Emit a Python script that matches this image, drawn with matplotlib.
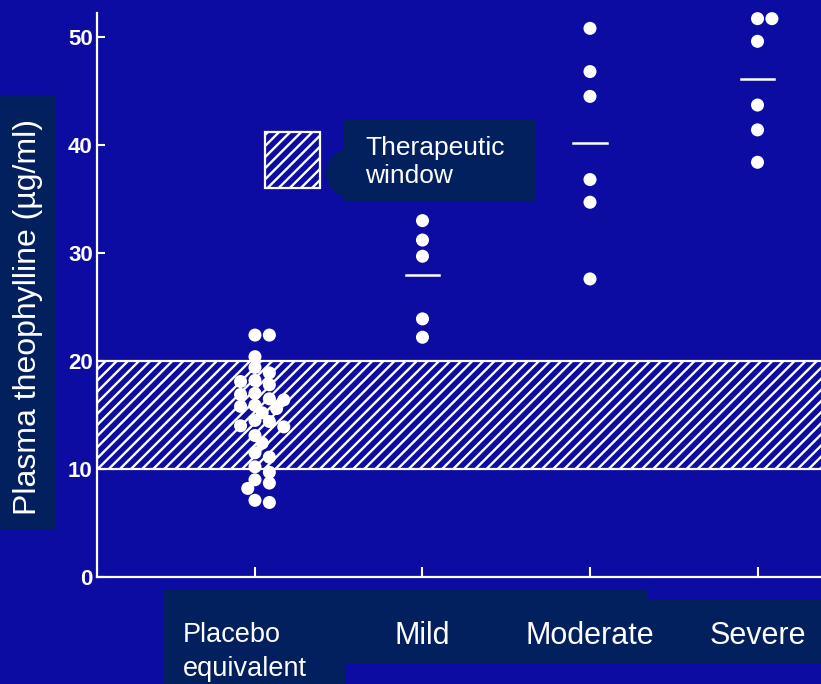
import matplotlib
matplotlib.use("Agg")
import matplotlib.pyplot as plt
import matplotlib.patches as mpatches
import matplotlib.transforms as mtransforms
import numpy as np

categories = ["Placebo\nequivalent", "Mild", "Moderate", "Severe"]
placebo = [22.4, 22.4, 20.4, 19.4, 18.9, 18.2, 18.1, 17.8, 17.0, 16.9, 16.5, 16.4,
           15.9, 15.8, 15.6, 15.2, 14.5, 14.4, 14.0, 13.9, 13.1, 12.4, 11.5, 11.1,
           10.2, 9.7, 9.0, 8.7, 8.2, 7.1, 6.9]
mild = [33.0, 31.2, 29.7, 23.9, 22.2]
moderate = [50.8, 46.8, 44.5, 36.8, 34.7, 27.6]
severe = [51.7, 51.7, 49.6, 43.7, 41.4, 38.4]
groups = [placebo, mild, moderate, severe]
window_low, window_high = 10, 20
yticks = [0, 10, 20, 30, 40, 50]

BG = "#0c0ca2"
NAVY = "#03205e"
plt.rcParams["font.family"] = ["Liberation Sans", "DejaVu Sans"]
plt.rcParams["hatch.color"] = "white"
plt.rcParams["hatch.linewidth"] = 1.7

fig = plt.figure(figsize=(8.21, 6.84), dpi=100, facecolor=BG)
ax = fig.add_axes([97 / 821, 107 / 684, 724 / 821, 577 / 684])
ax.set_facecolor(BG)
ax.set_xlim(-0.943, 3.379)
ax.set_ylim(0, 577 / 10.8)

# therapeutic band
ax.add_patch(mpatches.Rectangle((-0.943, window_low), 5, window_high - window_low,
                                facecolor="none", edgecolor="white", hatch="///",
                                linewidth=1.6, zorder=1))


def swarm(vals, xc, diam_px=12.0, xscale=167.5, yscale=10.8):
    # simple beeswarm: nudge dots sideways until they don't overlap
    placed = []
    xs = []
    step = 0.6 * diam_px
    for v in vals:
        yp = v * yscale
        k = 0
        while True:
            off = ((k + 1) // 2) * step * (1 if k % 2 else -1) if k else 0.0
            ok = all((off - px) ** 2 + (yp - py) ** 2 >= (0.85 * diam_px) ** 2
                     for px, py in placed)
            if ok:
                break
            k += 1
        placed.append((off, yp))
        xs.append(xc + off / xscale)
    return xs


for i, vals in enumerate(groups):
    xs = swarm(vals, i)
    ax.scatter(xs, vals, s=88, color="white", edgecolor="none", zorder=3, clip_on=False)
    if i > 0:
        m = np.mean(vals)
        ax.plot([i - 0.1, i + 0.1], [m, m], color="white", lw=1.8, zorder=3)

for s in ["top", "right"]:
    ax.spines[s].set_visible(False)
for s in ["left", "bottom"]:
    ax.spines[s].set_color("white")
    ax.spines[s].set_linewidth(1.6)
ax.spines["left"].set_bounds(0, 52.2)

ax.set_yticks(yticks)
ax.set_yticklabels([str(t) for t in yticks], color="white", fontsize=16, fontweight="bold")
ax.tick_params(axis="y", direction="in", length=6, width=1.5, color="white", pad=3)
ax.set_xticks(range(len(categories)))
ax.set_xticklabels([])
ax.tick_params(axis="x", direction="in", length=7, width=1.5, color="white")

# legend square for therapeutic window
ax.add_patch(mpatches.Rectangle((0.06, 36.0), 0.33, 5.2, facecolor="none",
                                edgecolor="white", hatch="///", linewidth=1.6, zorder=2))

# navy label boxes (figure coords)
def fbox(x0, y0, x1, y1):
    fig.patches.append(mpatches.Rectangle((x0 / 821, 1 - y1 / 684), (x1 - x0) / 821,
                                          (y1 - y0) / 684, transform=fig.transFigure,
                                          facecolor=NAVY, edgecolor="none", zorder=5))

fbox(0, 95, 55, 530)
fbox(344, 119, 536, 202)
fig.patches.append(mpatches.Ellipse((347 / 821, 1 - 173 / 684), 42 / 821, 47 / 684,
                                    transform=fig.transFigure, facecolor=NAVY,
                                    edgecolor="none", zorder=5))
fbox(163, 590, 647, 664)
fbox(647, 600, 821, 664)
fbox(163, 664, 345, 684)

fig.text(28 / 821, 1 - 317 / 684, "Plasma theophylline (\u00b5g/ml)", rotation=90,
         ha="center", va="center", color="white", fontsize=23, zorder=6)
fig.text(365 / 821, 1 - 162 / 684, "Therapeutic\nwindow", ha="left", va="center",
         color="white", fontsize=19, linespacing=1.2, zorder=6)

trans = mtransforms.blended_transform_factory(ax.transData, fig.transFigure)
for i, lab in enumerate(categories):
    if i == 0:
        fig.text(183 / 821, 1 - 652 / 684, lab, ha="left", va="center", color="white",
                 fontsize=19.5, linespacing=1.4, zorder=6)
    else:
        fig.text(i, 1 - 636 / 684, lab, transform=trans, ha="center", va="center",
                 color="white", fontsize=22, zorder=6)

fig.savefig("out.png", dpi=100, facecolor=BG)
